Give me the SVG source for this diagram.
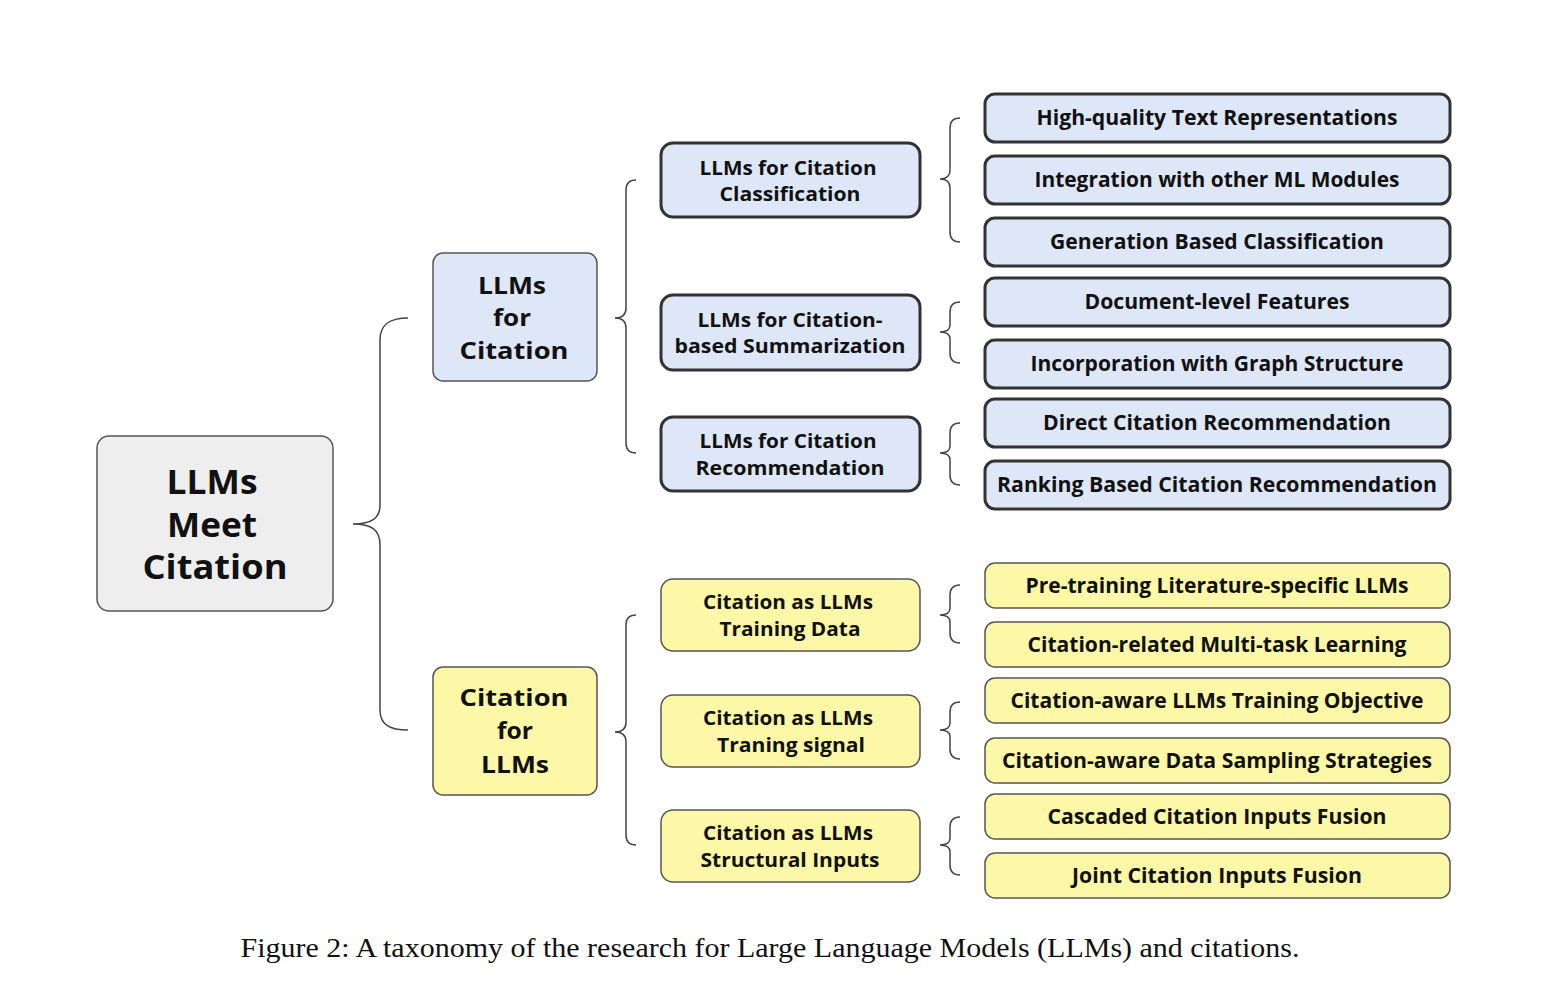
<svg xmlns="http://www.w3.org/2000/svg" width="1542" height="993" viewBox="0 0 1542 993">
<style>
.t{font-family:"Open Sans","DejaVu Sans",sans-serif;font-weight:700;fill:#111;text-anchor:middle}
.s3{font-size:21px}
.s2{font-size:20px}
.s1{font-size:24px}
.s0{font-size:34px}
.blue{fill:#dde7f7;stroke:#333;stroke-width:3}
.blue1{fill:#dde7f7;stroke:#555;stroke-width:1.5}
.yel{fill:#fcf8a8;stroke:#555;stroke-width:1.5}
.gray{fill:#eeeeee;stroke:#555;stroke-width:1.5}
.br{fill:none;stroke:#444;stroke-width:1.5}
.cap{font-family:"Liberation Serif","Times New Roman",serif;font-size:28px;fill:#111;text-anchor:middle}
</style>
<rect width="1542" height="993" fill="#ffffff"/>
<g id="connectors">
<path class="br" d="M408,318 C390,318 380,324 380,340 L380,505 C380,518 372,524 353,524 C372,524 380,530 380,545 L380,710 C380,725 390,730 408,730"/>
<path class="br" d="M636,180 C629,180 626,183 626,190 L626,308 C626,314 623,318 615,318 C623,318 626,322 626,328 L626,443 C626,450 629,453 636,453"/>
<path class="br" d="M636,615 C629,615 626,618 626,625 L626,722 C626,728 623,732 615,732 C623,732 626,736 626,742 L626,835 C626,842 629,845 636,845"/>
<path class="br" d="M960,118 C953,118 950,121 950,128 L950,170 C950,176 947,179 940,179 C947,179 950,182 950,188 L950,232 C950,239 953,242 960,242"/>
<path class="br" d="M960,302 C953,302 950,305 950,312 L950,325 C950,330 947,332 940,332 C947,332 950,334 950,339 L950,353 C950,360 953,363 960,363"/>
<path class="br" d="M960,423 C953,423 950,426 950,433 L950,446 C950,451 947,453 940,453 C947,453 950,455 950,460 L950,475 C950,482 953,485 960,485"/>
<path class="br" d="M960,585 C953,585 950,588 950,595 L950,608 C950,613 947,615 940,615 C947,615 950,617 950,622 L950,633 C950,640 953,643 960,643"/>
<path class="br" d="M960,702 C953,702 950,705 950,712 L950,723 C950,728 947,730 940,730 C947,730 950,732 950,737 L950,749 C950,756 953,759 960,759"/>
<path class="br" d="M960,817 C953,817 950,820 950,827 L950,838 C950,843 947,845 940,845 C947,845 950,847 950,852 L950,865 C950,872 953,875 960,875"/>
</g>
<g id="root">
<rect class="gray" x="97" y="436" width="236" height="175" rx="12"/>
<text class="t s0" x="212" y="494" textLength="91" lengthAdjust="spacingAndGlyphs">LLMs</text>
<text class="t s0" x="212" y="537" textLength="90" lengthAdjust="spacingAndGlyphs">Meet</text>
<text class="t s0" x="215" y="579" textLength="145" lengthAdjust="spacingAndGlyphs">Citation</text>
</g>
<g id="llms-for-citation">
<rect class="blue1" x="433" y="253" width="164" height="128" rx="10"/>
<text class="t s1" x="512" y="294" textLength="68" lengthAdjust="spacingAndGlyphs">LLMs</text>
<text class="t s1" x="512" y="326" textLength="38" lengthAdjust="spacingAndGlyphs">for</text>
<text class="t s1" x="514" y="359" textLength="109" lengthAdjust="spacingAndGlyphs">Citation</text>
</g>
<g id="citation-for-llms">
<rect class="yel" x="433" y="667" width="164" height="128" rx="10"/>
<text class="t s1" x="514" y="706" textLength="109" lengthAdjust="spacingAndGlyphs">Citation</text>
<text class="t s1" x="515" y="739" textLength="36" lengthAdjust="spacingAndGlyphs">for</text>
<text class="t s1" x="515" y="773" textLength="68" lengthAdjust="spacingAndGlyphs">LLMs</text>
</g>
<g id="l2-classification">
<rect class="blue" x="661" y="143" width="259" height="74" rx="12"/>
<text class="t s2" x="788" y="175" textLength="177" lengthAdjust="spacingAndGlyphs">LLMs for Citation</text>
<text class="t s2" x="790" y="201" textLength="141" lengthAdjust="spacingAndGlyphs">Classification</text>
</g>
<g id="l2-summarization">
<rect class="blue" x="661" y="295" width="259" height="75" rx="12"/>
<text class="t s2" x="790" y="327" textLength="185" lengthAdjust="spacingAndGlyphs">LLMs for Citation-</text>
<text class="t s2" x="790" y="353" textLength="231" lengthAdjust="spacingAndGlyphs">based Summarization</text>
</g>
<g id="l2-recommendation">
<rect class="blue" x="661" y="417" width="259" height="74" rx="12"/>
<text class="t s2" x="788" y="448" textLength="177" lengthAdjust="spacingAndGlyphs">LLMs for Citation</text>
<text class="t s2" x="790" y="475" textLength="189" lengthAdjust="spacingAndGlyphs">Recommendation</text>
</g>
<g id="l2-training-data">
<rect class="yel" x="661" y="579" width="259" height="72" rx="12"/>
<text class="t s2" x="788" y="609" textLength="170" lengthAdjust="spacingAndGlyphs">Citation as LLMs</text>
<text class="t s2" x="790" y="636" textLength="141" lengthAdjust="spacingAndGlyphs">Training Data</text>
</g>
<g id="l2-training-signal">
<rect class="yel" x="661" y="695" width="259" height="72" rx="12"/>
<text class="t s2" x="788" y="725" textLength="170" lengthAdjust="spacingAndGlyphs">Citation as LLMs</text>
<text class="t s2" x="791" y="752" textLength="148" lengthAdjust="spacingAndGlyphs">Traning signal</text>
</g>
<g id="l2-structural-inputs">
<rect class="yel" x="661" y="810" width="259" height="72" rx="12"/>
<text class="t s2" x="788" y="840" textLength="170" lengthAdjust="spacingAndGlyphs">Citation as LLMs</text>
<text class="t s2" x="790" y="867" textLength="179" lengthAdjust="spacingAndGlyphs">Structural Inputs</text>
</g>
<g id="l3-1"><rect class="blue" x="985" y="94" width="465" height="48" rx="10"/><text class="t s3" x="1217" y="125" textLength="361" lengthAdjust="spacingAndGlyphs">High-quality Text Representations</text></g>
<g id="l3-2"><rect class="blue" x="985" y="156" width="465" height="48" rx="10"/><text class="t s3" x="1217" y="187" textLength="365" lengthAdjust="spacingAndGlyphs">Integration with other ML Modules</text></g>
<g id="l3-3"><rect class="blue" x="985" y="218" width="465" height="48" rx="10"/><text class="t s3" x="1217" y="249" textLength="334" lengthAdjust="spacingAndGlyphs">Generation Based Classification</text></g>
<g id="l3-4"><rect class="blue" x="985" y="278" width="465" height="48" rx="10"/><text class="t s3" x="1217" y="309" textLength="265" lengthAdjust="spacingAndGlyphs">Document-level Features</text></g>
<g id="l3-5"><rect class="blue" x="985" y="340" width="465" height="48" rx="10"/><text class="t s3" x="1217" y="371" textLength="373" lengthAdjust="spacingAndGlyphs">Incorporation with Graph Structure</text></g>
<g id="l3-6"><rect class="blue" x="985" y="399" width="465" height="48" rx="10"/><text class="t s3" x="1217" y="430" textLength="348" lengthAdjust="spacingAndGlyphs">Direct Citation Recommendation</text></g>
<g id="l3-7"><rect class="blue" x="985" y="461" width="465" height="48" rx="10"/><text class="t s3" x="1217" y="492" textLength="440" lengthAdjust="spacingAndGlyphs">Ranking Based Citation Recommendation</text></g>
<g id="l3-8"><rect class="yel" x="985" y="563" width="465" height="45" rx="10"/><text class="t s3" x="1217" y="593" textLength="383" lengthAdjust="spacingAndGlyphs">Pre-training Literature-specific LLMs</text></g>
<g id="l3-9"><rect class="yel" x="985" y="622" width="465" height="45" rx="10"/><text class="t s3" x="1217" y="652" textLength="379" lengthAdjust="spacingAndGlyphs">Citation-related Multi-task Learning</text></g>
<g id="l3-10"><rect class="yel" x="985" y="678" width="465" height="45" rx="10"/><text class="t s3" x="1217" y="708" textLength="413" lengthAdjust="spacingAndGlyphs">Citation-aware LLMs Training Objective</text></g>
<g id="l3-11"><rect class="yel" x="985" y="738" width="465" height="45" rx="10"/><text class="t s3" x="1217" y="768" textLength="430" lengthAdjust="spacingAndGlyphs">Citation-aware Data Sampling Strategies</text></g>
<g id="l3-12"><rect class="yel" x="985" y="794" width="465" height="45" rx="10"/><text class="t s3" x="1217" y="824" textLength="339" lengthAdjust="spacingAndGlyphs">Cascaded Citation Inputs Fusion</text></g>
<g id="l3-13"><rect class="yel" x="985" y="853" width="465" height="45" rx="10"/><text class="t s3" x="1217" y="883" textLength="290" lengthAdjust="spacingAndGlyphs">Joint Citation Inputs Fusion</text></g>
<text class="cap" x="770" y="957" textLength="1059" lengthAdjust="spacingAndGlyphs">Figure 2: A taxonomy of the research for Large Language Models (LLMs) and citations.</text>
</svg>
